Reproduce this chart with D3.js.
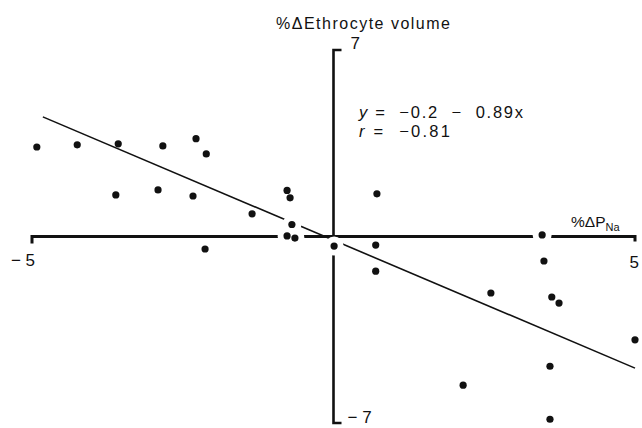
<!DOCTYPE html>
<html>
<head>
<meta charset="utf-8">
<script src="https://cdn.jsdelivr.net/npm/d3@7"></script>
<style>
  body { margin: 0; background: #fff; }
  text { font-family: "Liberation Sans", Arial, sans-serif; fill: #111; }
</style>
</head>
<body>
<svg id="chart"></svg>
<script>
var width = 642;
var height = 428;

// points (%ΔPNa, %Δ erythrocyte volume)
var xVals = [-4.92, -4.25, -3.57, -2.83, -2.28, -2.11, -3.61, -2.91, -2.33, -1.35,
             -0.77, -0.72, -0.69, -0.77, -0.64, -2.13, 0.72, 0.01, 0.70, 0.70,
             3.46, 3.49, 2.61, 3.62, 3.74, 5.00, 3.59, 2.15, 3.59];
var yVals = [3.36, 3.44, 3.48, 3.40, 3.67, 3.10, 1.56, 1.75, 1.52, 0.85,
             1.73, 1.45, 0.45, 0.02, -0.06, -0.47, 1.60, -0.36, -0.32, -1.30,
             0.06, -0.92, -2.12, -2.27, -2.50, -3.88, -4.87, -5.58, -6.86];
// points that cut a white gap in the lines behind them
var gapPoints = [12, 13, 14, 17, 20];

// fitted line as drawn
var fitX = [-4.82, 5.0];
var fitY = [4.49, -4.94];

var xDomain = [-5, 5];
var yDomain = [-7, 7];

var points = xVals.map((d, i) => ({ x: d, y: yVals[i], gap: gapPoints.includes(i) }));

var svg = d3.select('#chart')
  .attr('width', width)
  .attr('height', height);

var x = d3.scaleLinear().domain(xDomain).range([32, 635]);
var y = d3.scaleLinear().domain(yDomain).range([423, 50]);

// regression line
svg.append('line')
  .attr('x1', x(fitX[0])).attr('y1', y(fitY[0]))
  .attr('x2', x(fitX[1])).attr('y2', y(fitY[1]))
  .attr('stroke', '#111')
  .attr('stroke-width', 1.6);

// vertical axis with its end ticks
svg.append('path')
  .attr('d', 'M' + (x(0) + 8) + ',' + y(7) + 'H' + x(0) + 'V' + y(-7) + 'H' + (x(0) + 8))
  .attr('fill', 'none')
  .attr('stroke', '#111')
  .attr('stroke-width', 2.6);

// horizontal axis with its end ticks
svg.append('path')
  .attr('d', 'M' + x(-5) + ',' + (y(0) + 7) + 'V' + y(0) + 'H' + x(5) + 'V' + (y(0) + 5))
  .attr('fill', 'none')
  .attr('stroke', '#111')
  .attr('stroke-width', 3);

// white gaps round some points
svg.selectAll('circle.gap')
  .data(points.filter(d => d.gap))
  .join('circle')
    .attr('class', 'gap')
    .attr('cx', d => x(d.x))
    .attr('cy', d => y(d.y))
    .attr('r', 9.5)
    .attr('fill', '#fff');

// points
svg.selectAll('circle.dot')
  .data(points)
  .join('circle')
    .attr('class', 'dot')
    .attr('cx', d => x(d.x))
    .attr('cy', d => y(d.y))
    .attr('r', 3.6)
    .attr('fill', '#111');

// tick labels
svg.append('text')
  .attr('x', x(-5) + 3).attr('y', y(0) + 29)
  .attr('text-anchor', 'end')
  .style('font-size', '17px')
  .text('\u2212 5');

svg.append('text')
  .attr('x', x(5) + 4).attr('y', y(0) + 31)
  .attr('text-anchor', 'end')
  .style('font-size', '17px')
  .text('5');

svg.append('text')
  .attr('x', x(0) + 17).attr('y', y(7) - 1)
  .style('font-size', '17px')
  .text('7');

svg.append('text')
  .attr('x', x(0) + 14).attr('y', 423)
  .style('font-size', '17px')
  .text('\u2212 7');

// axis titles
svg.append('text')
  .attr('x', 276).attr('y', 29)
  .attr('textLength', 174)
  .attr('lengthAdjust', 'spacing')
  .style('font-size', '16px')
  .text('%\u0394Ethrocyte volume');

var xt = svg.append('text')
  .attr('x', 571).attr('y', 227)
  .style('font-size', '15.5px');
xt.append('tspan').text('%\u0394P');
xt.append('tspan').attr('dy', 4).style('font-size', '11px').text('Na');

// equation
var eq = svg.append('g').style('font-size', '16.5px');
var l1 = eq.append('text').attr('x', 359).attr('y', 118)
  .attr('textLength', 164).attr('lengthAdjust', 'spacing')
  .style('white-space', 'pre');
l1.append('tspan').style('font-style', 'italic').text('y');
l1.append('tspan').text(' =  \u22120.2  \u2212  0.89x');
var l2 = eq.append('text').attr('x', 359).attr('y', 137)
  .attr('textLength', 91).attr('lengthAdjust', 'spacing')
  .style('white-space', 'pre');
l2.append('tspan').style('font-style', 'italic').text('r');
l2.append('tspan').text(' =  \u22120.81');
</script>
</body>
</html>
